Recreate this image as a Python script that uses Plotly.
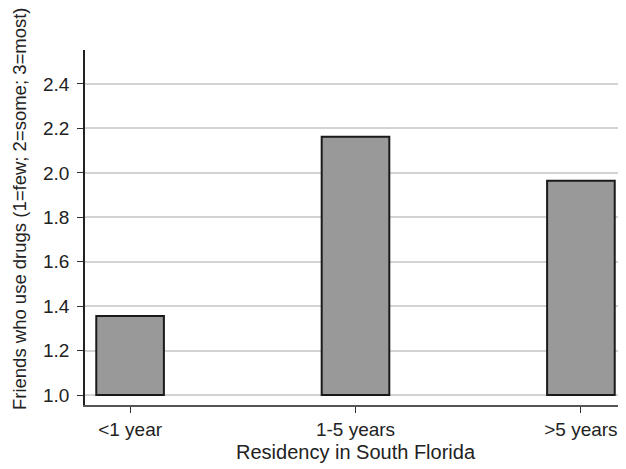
import plotly.graph_objects as go

categories = ["<1 year", "1-5 years", ">5 years"]
values = [1.356, 2.162, 1.965]
baseline = 1.0
y_ticks = [1.0, 1.2, 1.4, 1.6, 1.8, 2.0, 2.2, 2.4]

FONT = "Liberation Sans, Arial, Helvetica, sans-serif"

fig = go.Figure(go.Bar(
    x=[0, 1, 2],
    y=[v - baseline for v in values],
    base=[baseline] * len(values),
    width=0.3,
    marker=dict(color="#999999", line=dict(color="#1a1a1a", width=2)),
    hoverinfo="skip",
))

# page has an 8px body margin; compensate in figure size/margins
fig.update_layout(
    width=618, height=461,
    margin=dict(l=77, r=0, t=42, b=64, autoexpand=False),
    paper_bgcolor="white", plot_bgcolor="white",
    font=dict(family=FONT, size=19, color="#222"),
    showlegend=False,
    xaxis=dict(
        range=[-0.2, 2.2],
        tickmode="array", tickvals=[0, 1, 2], ticktext=categories,
        ticks="outside", ticklen=6, tickcolor="#333", tickwidth=1,
        showline=True, linecolor="#555", linewidth=2,
        showgrid=False, zeroline=False, automargin=False,
    ),
    yaxis=dict(
        range=[0.955, 2.553],
        tickmode="array", tickvals=y_ticks,
        ticktext=[f"{t:.1f}" for t in y_ticks],
        ticks="outside", ticklen=6, tickcolor="#333", tickwidth=1,
        ticklabelstandoff=4,
        showline=True, linecolor="#222", linewidth=1.5,
        showgrid=True, gridcolor="#d3d3d3", gridwidth=1.5,
        zeroline=False, automargin=False,
    ),
    annotations=[
        dict(text="Friends who use drugs (1=few; 2=some; 3=most)",
             xref="paper", yref="paper", x=0, y=0.552, xshift=-66,
             xanchor="center", yanchor="middle", textangle=-90,
             showarrow=False, font=dict(family=FONT, size=18.5, color="#222")),
        dict(text="Residency in South Florida",
             xref="paper", yref="paper", x=0.5, y=0, yshift=-47,
             xanchor="center", yanchor="middle",
             showarrow=False, font=dict(family=FONT, size=20, color="#222")),
    ],
)

fig.write_html("out.html")
